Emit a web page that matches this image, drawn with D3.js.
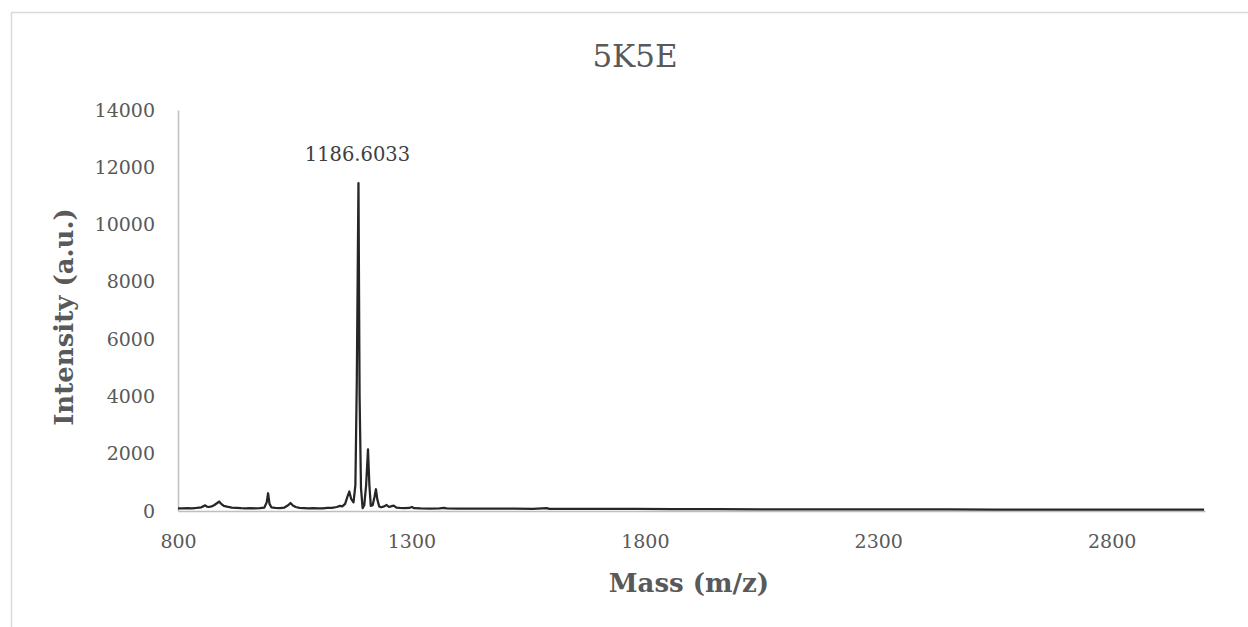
<!DOCTYPE html>
<html>
<head>
<meta charset="utf-8">
<script src="https://cdn.jsdelivr.net/npm/d3@7"></script>
<style>
  body { margin: 0; background: #fff; }
  svg { display: block; }
  .axis path { stroke: #bfbfbf; stroke-width: 1.5px; }
  .axis text { font-family: "DejaVu Serif", serif; font-size: 19px; fill: #595959; }
</style>
</head>
<body>
<div id="chart"></div>
<script>
// Spectrum: m/z and intensity (a.u.)
const masses = [
  800, 810, 820, 830, 840, 850, 855, 858, 862, 866, 872, 878, 884, 888, 892, 898,
  905, 915, 925, 935, 945, 955, 965, 975, 985, 990, 993, 996, 1000, 1008, 1018, 1028,
  1036, 1041, 1046, 1052, 1060, 1070, 1080, 1090, 1100, 1110, 1120, 1130, 1140, 1147,
  1152, 1158, 1163, 1167, 1171, 1176, 1180, 1183, 1186.6, 1189, 1192, 1195.5, 1199, 1203,
  1207, 1210, 1213, 1217, 1221, 1224, 1227, 1231, 1235, 1240, 1247, 1252, 1258, 1262,
  1268, 1275, 1285, 1295, 1301, 1306, 1320, 1340, 1360, 1370, 1375, 1400, 1430, 1460,
  1490, 1520, 1560, 1590, 1595, 1630, 1700, 1780, 1860, 1950, 2050, 2150, 2250, 2350,
  2450, 2550, 2650, 2750, 2850, 2998,
];
const intensities = [
  95, 90, 100, 95, 110, 130, 170, 200, 150, 140, 160, 210, 280, 330, 260, 180,
  150, 120, 110, 100, 95, 100, 90, 100, 120, 300, 620, 250, 130, 110, 100, 120,
  200, 280, 190, 140, 110, 100, 90, 100, 95, 90, 105, 110, 140, 180,
  160, 250, 500, 680, 420, 300, 900, 4500, 11450, 4000, 800, 100, 200, 900,
  2150, 900, 180, 200, 500, 760, 400, 160, 130, 150, 210, 140, 170, 190,
  120, 110, 100, 105, 140, 100, 90, 85, 90, 110, 90, 85, 80, 85,
  80, 80, 75, 100, 75, 75, 70, 70, 65, 65, 60, 60, 55, 55,
  55, 50, 50, 50, 45, 45,
];

const xTicks = [800, 1300, 1800, 2300, 2800];
const yTicks = [0, 2000, 4000, 6000, 8000, 10000, 12000, 14000];

const title = '5K5E';
const xTitle = 'Mass (m/z)';
const yTitle = 'Intensity (a.u.)';
const peakLabel = { mass: 1186.6033, intensity: 11450, text: '1186.6033' };

const width = 1248;
const height = 627;
const plot = { left: 178, right: 1205, top: 110, bottom: 511 };

const data = masses.map((m, i) => ({ m, v: intensities[i] }));

const svg = d3.select('#chart').append('svg')
  .attr('width', width)
  .attr('height', height);

// Chart area border (runs past the right and bottom edges)
svg.append('rect')
  .attr('x', 11.5)
  .attr('y', 12.5)
  .attr('width', 1300)
  .attr('height', 700)
  .attr('fill', '#fff')
  .attr('stroke', '#d9d9d9')
  .attr('stroke-width', 1.5);

const x = d3.scaleLinear().domain([800, 3000]).range([plot.left, plot.right]);
const y = d3.scaleLinear().domain([0, 14000]).range([plot.bottom, plot.top]);

const fmt = d3.format('d');

// Axes
svg.append('g')
  .attr('class', 'axis')
  .attr('transform', `translate(0,${plot.bottom})`)
  .call(d3.axisBottom(x).tickValues(xTicks).tickFormat(fmt)
    .tickSize(0).tickPadding(24).tickSizeOuter(0))
  .call((g) => g.selectAll('.tick line').remove());

svg.append('g')
  .attr('class', 'axis')
  .attr('transform', `translate(${plot.left},0)`)
  .call(d3.axisLeft(y).tickValues(yTicks).tickFormat(fmt)
    .tickSize(0).tickPadding(23).tickSizeOuter(0))
  .call((g) => g.selectAll('.tick line').remove());

// Spectrum line
const line = d3.line()
  .x((d) => x(d.m))
  .y((d) => y(d.v));

svg.append('path')
  .datum(data)
  .attr('fill', 'none')
  .attr('stroke', '#262626')
  .attr('stroke-width', 2.25)
  .attr('stroke-linejoin', 'round')
  .attr('d', line);

// Peak label
svg.append('text')
  .attr('x', x(peakLabel.mass) - 1)
  .attr('y', 161)
  .attr('text-anchor', 'middle')
  .style('font-family', '"DejaVu Serif", serif')
  .style('font-size', '19.5px')
  .style('fill', '#404040')
  .text(peakLabel.text);

// Title
svg.append('text')
  .attr('x', 635)
  .attr('y', 67)
  .attr('text-anchor', 'middle')
  .style('font-family', '"DejaVu Serif", serif')
  .style('font-size', '31px')
  .style('fill', '#595959')
  .text(title);

// Axis titles
svg.append('text')
  .attr('x', 689)
  .attr('y', 592)
  .attr('text-anchor', 'middle')
  .style('font-family', '"DejaVu Serif", serif')
  .style('font-weight', 'bold')
  .style('font-size', '26px')
  .style('fill', '#595959')
  .text(xTitle);

svg.append('text')
  .attr('transform', 'translate(73,317) rotate(-90)')
  .attr('text-anchor', 'middle')
  .style('font-family', '"DejaVu Serif", serif')
  .style('font-weight', 'bold')
  .style('font-size', '26px')
  .style('fill', '#595959')
  .text(yTitle);
</script>
</body>
</html>
